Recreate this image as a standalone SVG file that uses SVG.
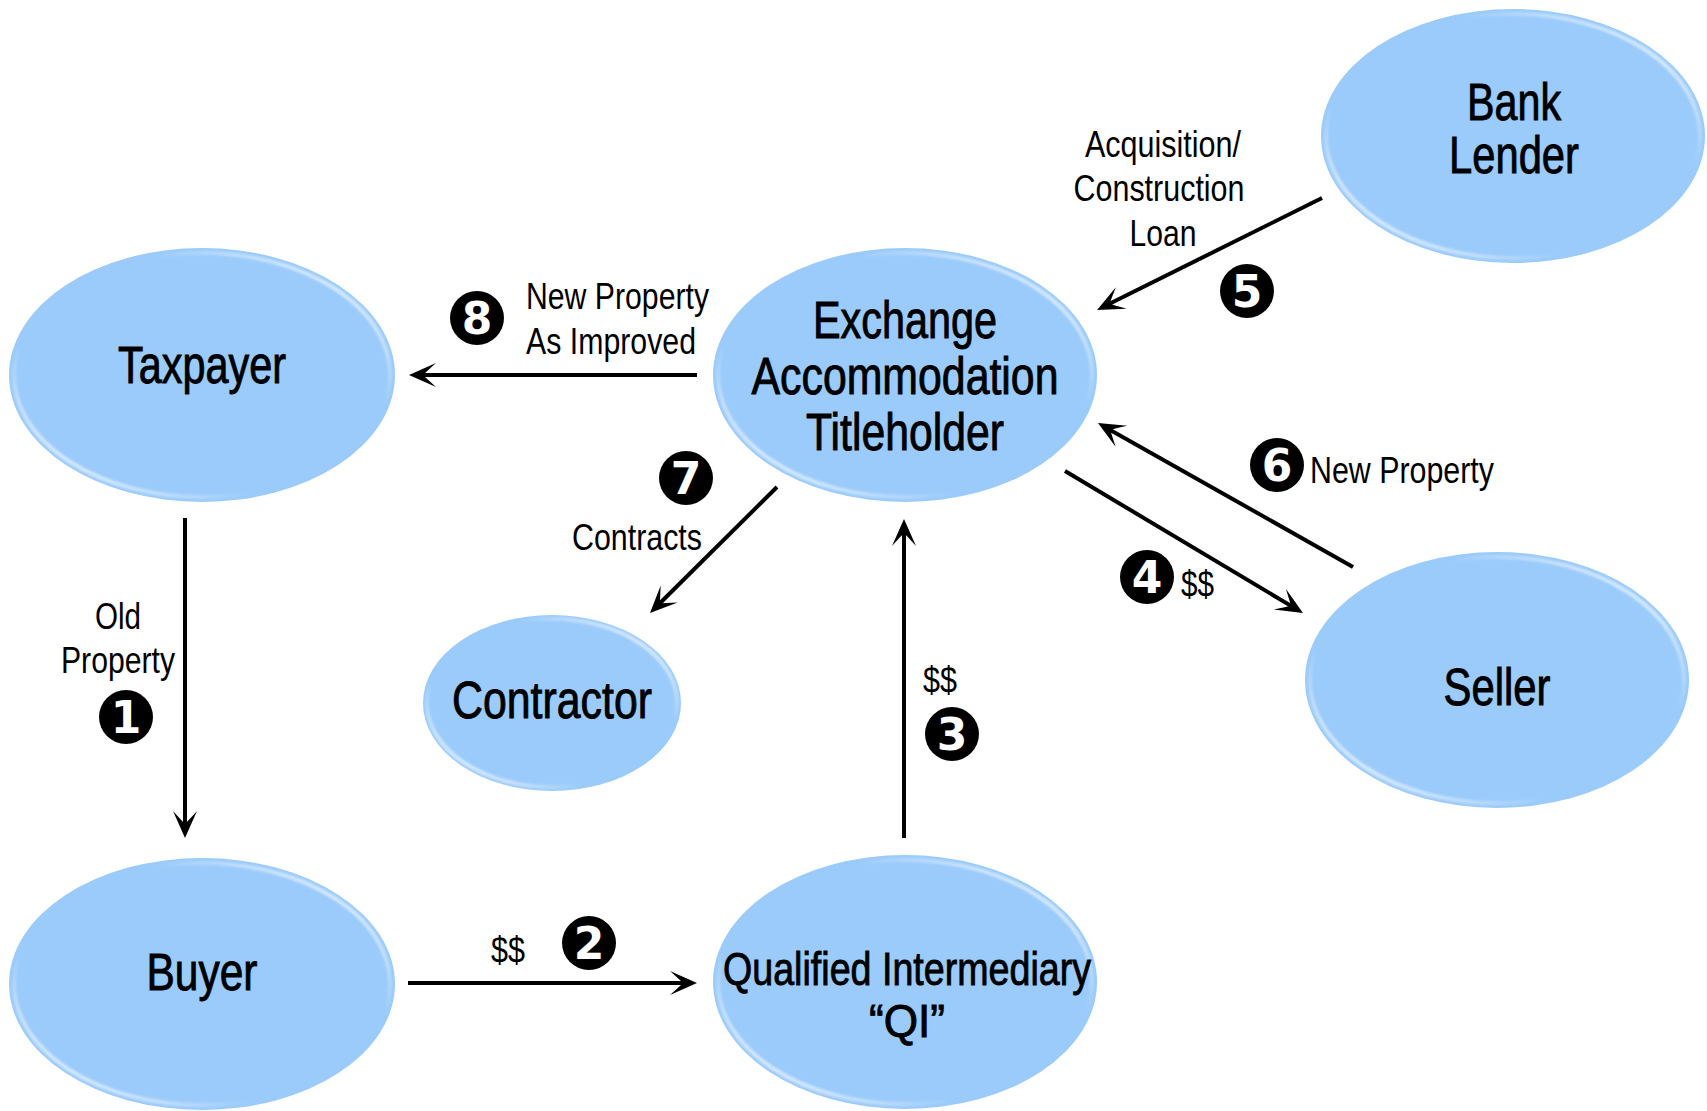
<svg xmlns="http://www.w3.org/2000/svg" width="1707" height="1111" viewBox="0 0 1707 1111">
  <style>
    .node-fill { fill: #9BCBFB; }
    .node-shine { fill: none; stroke: url(#rim); stroke-width: 4; filter: url(#soft); }
    .lbl { font-family: "Liberation Sans Narrow", "Arial Narrow", "Liberation Sans", sans-serif; font-size: 51px; fill: #000; stroke: #000; stroke-width: 0.9px; text-anchor: middle; }
    .lbl-s { font-size: 46px; }
    .note { font-family: "Liberation Sans Narrow", "Arial Narrow", "Liberation Sans", sans-serif; font-size: 36px; fill: #000; }
    .mid { text-anchor: middle; }
    .end { text-anchor: end; }
    .step circle { fill: #000; }
    .step text { font-family: "DejaVu Sans", "Liberation Sans", sans-serif; font-weight: bold; font-size: 44px; fill: #fff; text-anchor: middle; }
    .conn { fill: none; stroke: #000; stroke-width: 4; marker-end: url(#head); }
  </style>
  <defs>
    <linearGradient id="rim" x1="0" y1="1" x2="1" y2="0">
      <stop offset="0" stop-color="#ffffff" stop-opacity="1"/>
      <stop offset="0.32" stop-color="#ffffff" stop-opacity="0"/>
      <stop offset="0.68" stop-color="#ffffff" stop-opacity="0"/>
      <stop offset="1" stop-color="#ffffff" stop-opacity="1"/>
    </linearGradient>
    <filter id="soft" x="-5%" y="-5%" width="110%" height="110%">
      <feGaussianBlur stdDeviation="1"/>
    </filter>
    <marker id="head" markerUnits="userSpaceOnUse" markerWidth="40" markerHeight="30" viewBox="-20 -15 40 30" refX="0" refY="0" orient="auto">
      <path d="M10,0 L-17,-12 Q-7,-3 -4,0 Q-7,3 -17,12 Z" fill="#000"/>
    </marker>
  </defs>

  <rect width="1707" height="1111" fill="#fff"/>

  <!-- nodes -->
  <g id="taxpayer">
    <ellipse class="node-fill" cx="202" cy="375" rx="193" ry="127"/>
    <ellipse class="node-shine" cx="202" cy="375" rx="188" ry="122"/>
    <text class="lbl" x="202" y="383" textLength="168" lengthAdjust="spacingAndGlyphs">Taxpayer</text>
  </g>
  <g id="eat">
    <ellipse class="node-fill" cx="905" cy="375" rx="192" ry="127"/>
    <ellipse class="node-shine" cx="905" cy="375" rx="187" ry="122"/>
    <text class="lbl" x="905" y="338" textLength="184" lengthAdjust="spacingAndGlyphs">Exchange</text>
    <text class="lbl" x="905" y="394" textLength="307" lengthAdjust="spacingAndGlyphs">Accommodation</text>
    <text class="lbl" x="905" y="450" textLength="198" lengthAdjust="spacingAndGlyphs">Titleholder</text>
  </g>
  <g id="bank-lender">
    <ellipse class="node-fill" cx="1513" cy="136" rx="192" ry="127"/>
    <ellipse class="node-shine" cx="1513" cy="136" rx="187" ry="122"/>
    <text class="lbl" x="1514" y="120" textLength="94" lengthAdjust="spacingAndGlyphs">Bank</text>
    <text class="lbl" x="1514" y="173" textLength="130" lengthAdjust="spacingAndGlyphs">Lender</text>
  </g>
  <g id="contractor">
    <ellipse class="node-fill" cx="552" cy="703" rx="129" ry="88"/>
    <ellipse class="node-shine" cx="552" cy="703" rx="125" ry="84"/>
    <text class="lbl" x="552" y="718" textLength="200" lengthAdjust="spacingAndGlyphs">Contractor</text>
  </g>
  <g id="seller">
    <ellipse class="node-fill" cx="1497" cy="680" rx="192" ry="128"/>
    <ellipse class="node-shine" cx="1497" cy="680" rx="187" ry="123"/>
    <text class="lbl" x="1497" y="705" textLength="107" lengthAdjust="spacingAndGlyphs">Seller</text>
  </g>
  <g id="buyer">
    <ellipse class="node-fill" cx="202" cy="984" rx="193" ry="126"/>
    <ellipse class="node-shine" cx="202" cy="984" rx="188" ry="121"/>
    <text class="lbl" x="202" y="990" textLength="111" lengthAdjust="spacingAndGlyphs">Buyer</text>
  </g>
  <g id="qi">
    <ellipse class="node-fill" cx="905" cy="982" rx="192" ry="127"/>
    <ellipse class="node-shine" cx="905" cy="982" rx="187" ry="122"/>
    <text class="lbl lbl-s" x="907" y="985" textLength="368" lengthAdjust="spacingAndGlyphs">Qualified Intermediary</text>
    <text class="lbl lbl-s" x="907" y="1037" textLength="76" lengthAdjust="spacingAndGlyphs">“QI”</text>
  </g>

  <!-- connectors -->
  <g id="connectors">
    <line class="conn" x1="185" y1="518" x2="185" y2="828"/>
    <line class="conn" x1="408" y1="983" x2="687" y2="983"/>
    <line class="conn" x1="904" y1="838" x2="904" y2="529"/>
    <line class="conn" x1="1065" y1="471" x2="1294.4" y2="607.9"/>
    <line class="conn" x1="1322" y1="198" x2="1106" y2="305.5"/>
    <line class="conn" x1="1353" y1="567" x2="1106.7" y2="427.9"/>
    <line class="conn" x1="777" y1="487" x2="657.1" y2="606"/>
    <line class="conn" x1="697" y1="375" x2="419" y2="375"/>
  </g>

  <!-- connector labels -->
  <g id="labels">
    <text class="note mid" x="118" y="629" textLength="46" lengthAdjust="spacingAndGlyphs">Old</text>
    <text class="note mid" x="118" y="673" textLength="114" lengthAdjust="spacingAndGlyphs">Property</text>
    <text class="note mid" x="508" y="963" textLength="34" lengthAdjust="spacingAndGlyphs">$$</text>
    <text class="note mid" x="940" y="693" textLength="34" lengthAdjust="spacingAndGlyphs">$$</text>
    <text class="note" x="1181" y="597" textLength="33" lengthAdjust="spacingAndGlyphs">$$</text>
    <text class="note mid" x="1163" y="157" textLength="156" lengthAdjust="spacingAndGlyphs">Acquisition/</text>
    <text class="note mid" x="1159" y="201" textLength="171" lengthAdjust="spacingAndGlyphs">Construction</text>
    <text class="note mid" x="1163" y="246" textLength="67" lengthAdjust="spacingAndGlyphs">Loan</text>
    <text class="note" x="1310" y="483" textLength="184" lengthAdjust="spacingAndGlyphs">New Property</text>
    <text class="note end" x="702" y="550" textLength="130" lengthAdjust="spacingAndGlyphs">Contracts</text>
    <text class="note" x="526" y="309" textLength="183" lengthAdjust="spacingAndGlyphs">New Property</text>
    <text class="note" x="526" y="354" textLength="170" lengthAdjust="spacingAndGlyphs">As Improved</text>
  </g>

  <!-- step numbers -->
  <g id="steps">
    <g class="step"><circle cx="126" cy="717" r="27"/><text x="126" y="733">1</text></g>
    <g class="step"><circle cx="589" cy="943" r="27"/><text x="589" y="959">2</text></g>
    <g class="step"><circle cx="952" cy="734" r="27"/><text x="952" y="750">3</text></g>
    <g class="step"><circle cx="1147" cy="577" r="27"/><text x="1147" y="593">4</text></g>
    <g class="step"><circle cx="1247" cy="291" r="27"/><text x="1247" y="307">5</text></g>
    <g class="step"><circle cx="1277" cy="465" r="27"/><text x="1277" y="481">6</text></g>
    <g class="step"><circle cx="686" cy="478" r="27"/><text x="686" y="494">7</text></g>
    <g class="step"><circle cx="477" cy="318" r="27"/><text x="477" y="334">8</text></g>
  </g>
</svg>
